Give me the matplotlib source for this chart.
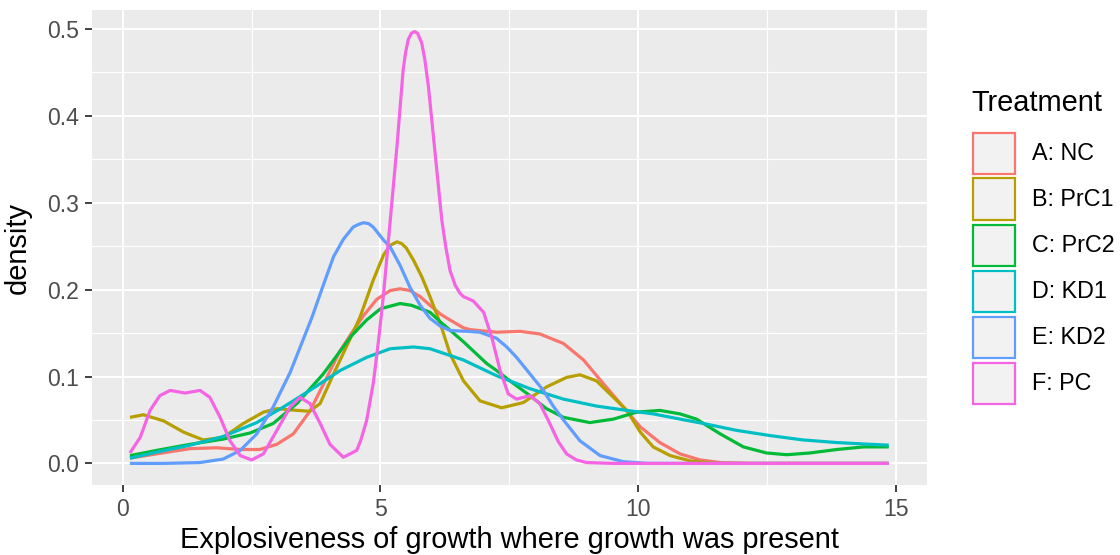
import matplotlib
matplotlib.use("Agg")
import matplotlib.pyplot as plt
from matplotlib.patches import Rectangle

# ---------------- data ----------------
treatments = ["A: NC", "B: PrC1", "C: PrC2", "D: KD1", "E: KD2", "F: PC"]
colors = ["#F8766D", "#B79F00", "#00BA38", "#00BFC4", "#619CFF", "#F564E3"]

nc_x = [0.14, 0.66, 1.31, 1.82, 2.28, 2.66, 2.99, 3.31, 3.63, 3.96, 4.20, 4.44, 4.67, 4.93,
        5.19, 5.38, 5.57, 5.77, 5.96, 6.16, 6.35, 6.61, 6.74, 7.25, 7.71, 8.09, 8.55, 8.94,
        9.32, 9.71, 10.04, 10.42, 10.81, 11.20, 11.59, 12.20, 14.86]
nc_y = [0.006, 0.011, 0.017, 0.018, 0.016, 0.016, 0.022, 0.034, 0.060, 0.099, 0.128, 0.150,
        0.170, 0.189, 0.199, 0.201, 0.199, 0.192, 0.182, 0.172, 0.165, 0.156, 0.154, 0.151,
        0.152, 0.149, 0.138, 0.119, 0.092, 0.065, 0.042, 0.024, 0.011, 0.004, 0.001, 0.0, 0.0]

prc1_x = [0.14, 0.40, 0.79, 1.18, 1.56, 1.95, 2.34, 2.73, 2.99, 3.38, 3.63, 3.83, 4.09, 4.44,
          4.60, 4.86, 5.06, 5.19, 5.32, 5.41, 5.50, 5.64, 5.80, 5.96, 6.16, 6.35, 6.61, 6.93,
          7.35, 7.77, 8.22, 8.61, 8.87, 9.19, 9.52, 9.78, 10.04, 10.29, 10.62, 11.00, 11.50,
          14.86]
prc1_y = [0.053, 0.056, 0.049, 0.036, 0.027, 0.030, 0.046, 0.059, 0.063, 0.061, 0.060, 0.069,
          0.103, 0.147, 0.168, 0.211, 0.240, 0.251, 0.255, 0.253, 0.248, 0.234, 0.215, 0.192,
          0.161, 0.126, 0.095, 0.072, 0.064, 0.070, 0.088, 0.099, 0.102, 0.095, 0.076, 0.061,
          0.036, 0.019, 0.009, 0.003, 0.0, 0.0]

prc2_x = [0.14, 0.66, 1.31, 1.95, 2.47, 2.92, 3.38, 3.89, 4.44, 4.73, 5.00, 5.38, 5.60, 5.96,
          6.16, 6.61, 7.06, 7.25, 7.58, 7.90, 8.22, 8.55, 9.06, 9.52, 9.97, 10.42, 10.81, 11.13,
          11.59, 12.04, 12.49, 12.88, 13.33, 13.85, 14.37, 14.86]
prc2_y = [0.009, 0.015, 0.022, 0.028, 0.035, 0.046, 0.069, 0.103, 0.147, 0.165, 0.178, 0.184,
          0.182, 0.174, 0.163, 0.140, 0.115, 0.107, 0.092, 0.078, 0.063, 0.053, 0.047, 0.051,
          0.059, 0.061, 0.057, 0.051, 0.034, 0.019, 0.012, 0.010, 0.012, 0.016, 0.019, 0.019]

kd1_x = [0.14, 0.66, 1.31, 1.95, 2.60, 3.12, 3.63, 4.22, 4.73, 5.19, 5.64, 5.96, 6.61, 7.25,
         7.90, 8.55, 9.19, 9.78, 10.29, 10.81, 11.26, 11.91, 12.56, 13.20, 13.85, 14.50, 14.86]
kd1_y = [0.006, 0.013, 0.021, 0.031, 0.047, 0.065, 0.084, 0.107, 0.122, 0.132, 0.134, 0.132,
         0.119, 0.101, 0.086, 0.074, 0.066, 0.061, 0.057, 0.051, 0.046, 0.038, 0.032, 0.027,
         0.024, 0.022, 0.021]

kd2_x = [0.14, 0.80, 1.50, 1.95, 2.28, 2.60, 2.92, 3.25, 3.45, 3.67, 3.89, 4.09, 4.28, 4.47,
         4.57, 4.67, 4.77, 4.86, 5.06, 5.19, 5.38, 5.57, 5.77, 5.96, 6.16, 6.35, 6.67, 6.93,
         7.25, 7.45, 7.64, 7.90, 8.16, 8.35, 8.55, 8.87, 9.26, 9.71, 10.20, 14.86]
kd2_y = [0.000, 0.000, 0.001, 0.005, 0.015, 0.034, 0.065, 0.105, 0.135, 0.168, 0.205, 0.238,
         0.258, 0.272, 0.275, 0.277, 0.276, 0.272, 0.257, 0.249, 0.228, 0.203, 0.182, 0.167,
         0.158, 0.153, 0.152, 0.151, 0.144, 0.134, 0.122, 0.103, 0.084, 0.066, 0.050, 0.026,
         0.009, 0.002, 0.0, 0.0]

pc_x = [0.14, 0.34, 0.53, 0.72, 0.92, 1.21, 1.50, 1.69, 1.89, 2.08, 2.28, 2.50, 2.73, 2.99,
        3.25, 3.44, 3.63, 3.83, 4.02, 4.28, 4.54, 4.62, 4.73, 4.86, 4.96, 5.06, 5.19, 5.32,
        5.44, 5.49, 5.54, 5.60, 5.66, 5.72, 5.80, 5.86, 5.93, 6.06, 6.19, 6.27, 6.35, 6.45,
        6.54, 6.61, 6.80, 7.00, 7.16, 7.32, 7.48, 7.64, 7.90, 8.09, 8.26, 8.45, 8.61, 8.80,
        9.00, 9.50, 14.86]
pc_y = [0.012, 0.030, 0.061, 0.078, 0.084, 0.081, 0.084, 0.076, 0.053, 0.026, 0.009, 0.004,
        0.011, 0.038, 0.065, 0.076, 0.069, 0.046, 0.022, 0.007, 0.015, 0.027, 0.049, 0.092,
        0.140, 0.195, 0.280, 0.365, 0.453, 0.474, 0.488, 0.495, 0.497, 0.495, 0.484, 0.465,
        0.434, 0.357, 0.280, 0.248, 0.222, 0.205, 0.196, 0.192, 0.187, 0.174, 0.145, 0.107,
        0.080, 0.074, 0.078, 0.069, 0.049, 0.025, 0.011, 0.004, 0.001, 0.0, 0.0]

series_x = [nc_x, prc1_x, prc2_x, kd1_x, kd2_x, pc_x]
series_y = [nc_y, prc1_y, prc2_y, kd1_y, kd2_y, pc_y]

x_ticks = [0, 5, 10, 15]
x_minor = [2.5, 7.5, 12.5]
y_ticks = [0.0, 0.1, 0.2, 0.3, 0.4, 0.5]
y_minor = [0.05, 0.15, 0.25, 0.35, 0.45]
x_label = "Explosiveness of growth where growth was present"
y_label = "density"
legend_title = "Treatment"

# ---------------- figure ----------------
W, H = 1120, 555
fig = plt.figure(figsize=(W / 100, H / 100), dpi=100)
plt.rcParams["font.family"] = ["Liberation Sans", "DejaVu Sans"]

L, R, T, B = 92, 926.7, 10, 485
ax = fig.add_axes([L / W, 1 - B / H, (R - L) / W, (B - T) / H])
ax.set_facecolor("#EBEBEB")
for s in ax.spines.values():
    s.set_visible(False)

all_x = [v for xs in series_x for v in xs]
xmin, xmax = min(all_x), max(all_x)
xr = xmax - xmin
ax.set_xlim(xmin - 0.05 * xr, xmax + 0.05 * xr)
ymax = max(v for ys in series_y for v in ys)
ax.set_ylim(-0.05 * ymax, ymax * 1.05)

ax.set_xticks(x_ticks)
ax.set_xticks(x_minor, minor=True)
ax.set_yticks(y_ticks)
ax.set_yticks(y_minor, minor=True)
ax.set_xticklabels([str(v) for v in x_ticks])
ax.set_yticklabels([f"{v:.1f}" for v in y_ticks])
ax.grid(which="major", color="white", linewidth=1.5)
ax.grid(which="minor", color="white", linewidth=0.8)
ax.set_axisbelow(True)
ax.tick_params(which="major", length=5, width=1.3, color="#333333",
               labelsize=16.6, labelcolor="#4D4D4D", pad=4)
ax.tick_params(which="minor", length=0)

for xs, ys, c in zip(series_x, series_y, colors):
    ax.plot(xs, ys, color=c, linewidth=2.3, solid_joinstyle="round",
            solid_capstyle="butt", zorder=3)

fig.text((L + R) / 2 / W, 1 - 540 / H, x_label, ha="center", va="center",
         fontsize=20.9, color="black")
fig.text(18 / W, 1 - ((T + B) / 2) / H, y_label, ha="center", va="center",
         rotation=90, fontsize=20.9, color="black")

# ---------------- legend ----------------
fig.text(971.7 / W, 1 - 103 / H, legend_title, ha="left", va="center",
         fontsize=20.9, color="black")
key_left, key_w, key_h, pitch, top0 = 972.5, 42, 41.5, 46.0, 132.5
for i, (lab, c) in enumerate(zip(treatments, colors)):
    top = top0 + i * pitch
    fig.add_artist(Rectangle((key_left / W, 1 - (top + key_h) / H), key_w / W, key_h / H,
                             transform=fig.transFigure, facecolor="#F2F2F2",
                             edgecolor=c, linewidth=1.6))
    fig.text(1031.7 / W, 1 - (top + key_h / 2) / H, lab, ha="left", va="center",
             fontsize=16.8, color="black")

fig.savefig("out.png", dpi=100, facecolor="white")
